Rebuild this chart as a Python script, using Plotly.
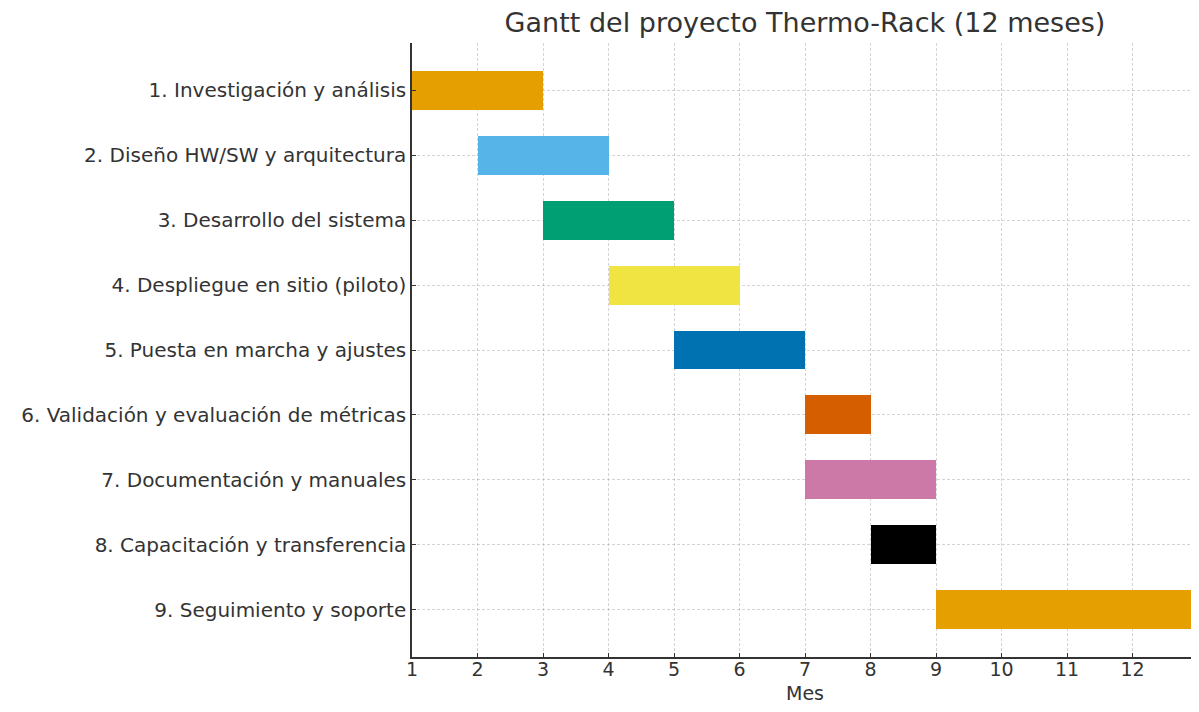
import plotly.graph_objects as go

tasks = [
    "1. Investigación y análisis",
    "2. Diseño HW/SW y arquitectura",
    "3. Desarrollo del sistema",
    "4. Despliegue en sitio (piloto)",
    "5. Puesta en marcha y ajustes",
    "6. Validación y evaluación de métricas",
    "7. Documentación y manuales",
    "8. Capacitación y transferencia",
    "9. Seguimiento y soporte",
]
start_month = [1, 2, 3, 4, 5, 7, 7, 8, 9]
duration = [2, 2, 2, 2, 2, 1, 2, 1, 4]
colors = ["#E69F00", "#56B4E9", "#009E73", "#F0E442", "#0072B2",
          "#D55E00", "#CC79A7", "#000000", "#E69F00"]
x_ticks = list(range(1, 13))

ypos = list(range(len(tasks)))

fig = go.Figure()
fig.add_trace(go.Bar(
    y=ypos, x=duration, base=start_month, orientation="h",
    width=0.6, marker=dict(color=colors, line=dict(width=0)),
    showlegend=False, hoverinfo="skip",
))

font = "DejaVu Sans, sans-serif"
W, H = 1191, 696
T, B = 35, 47
plot_h = H - T - B
fig.update_layout(
    width=W, height=H,
    margin=dict(l=404, r=1, t=T, b=B),
    paper_bgcolor="white", plot_bgcolor="white",
    font=dict(family=font, color="#333333", size=20),
    title=dict(text="Gantt del proyecto Thermo-Rack (12 meses)",
               x=797 / W, xanchor="center", y=1 - 15 / H, yanchor="middle",
               font=dict(size=27, color="#333333")),
    bargap=0,
    annotations=[dict(text="Mes", xref="paper", yref="paper",
                      x=0.5, y=-36 / plot_h, xanchor="center", yanchor="middle",
                      showarrow=False, font=dict(size=19, color="#333333"))],
)
grid = "rgba(160,160,160,0.45)"
fig.update_xaxes(
    range=[1, 13], tickvals=x_ticks, ticktext=[str(v) for v in x_ticks],
    showgrid=True, gridcolor=grid, griddash="3px,2px", gridwidth=1,
    showline=True, linecolor="#333333", linewidth=1.5, mirror=False,
    ticks="inside", ticklen=4, tickcolor="#333333", tickwidth=1.2,
    zeroline=False, layer="above traces",
    tickfont=dict(size=19), ticklabelstandoff=-6,
)
fig.update_yaxes(
    range=[8.73, -0.73], tickvals=ypos, ticktext=tasks,
    showgrid=True, gridcolor=grid, griddash="3px,2px", gridwidth=1,
    showline=True, linecolor="#333333", linewidth=1.5, mirror=False,
    ticks="inside", ticklen=4, tickcolor="#333333", tickwidth=1.2,
    zeroline=False, layer="above traces",
    tickfont=dict(size=20),
)

fig.write_html("out.html")
